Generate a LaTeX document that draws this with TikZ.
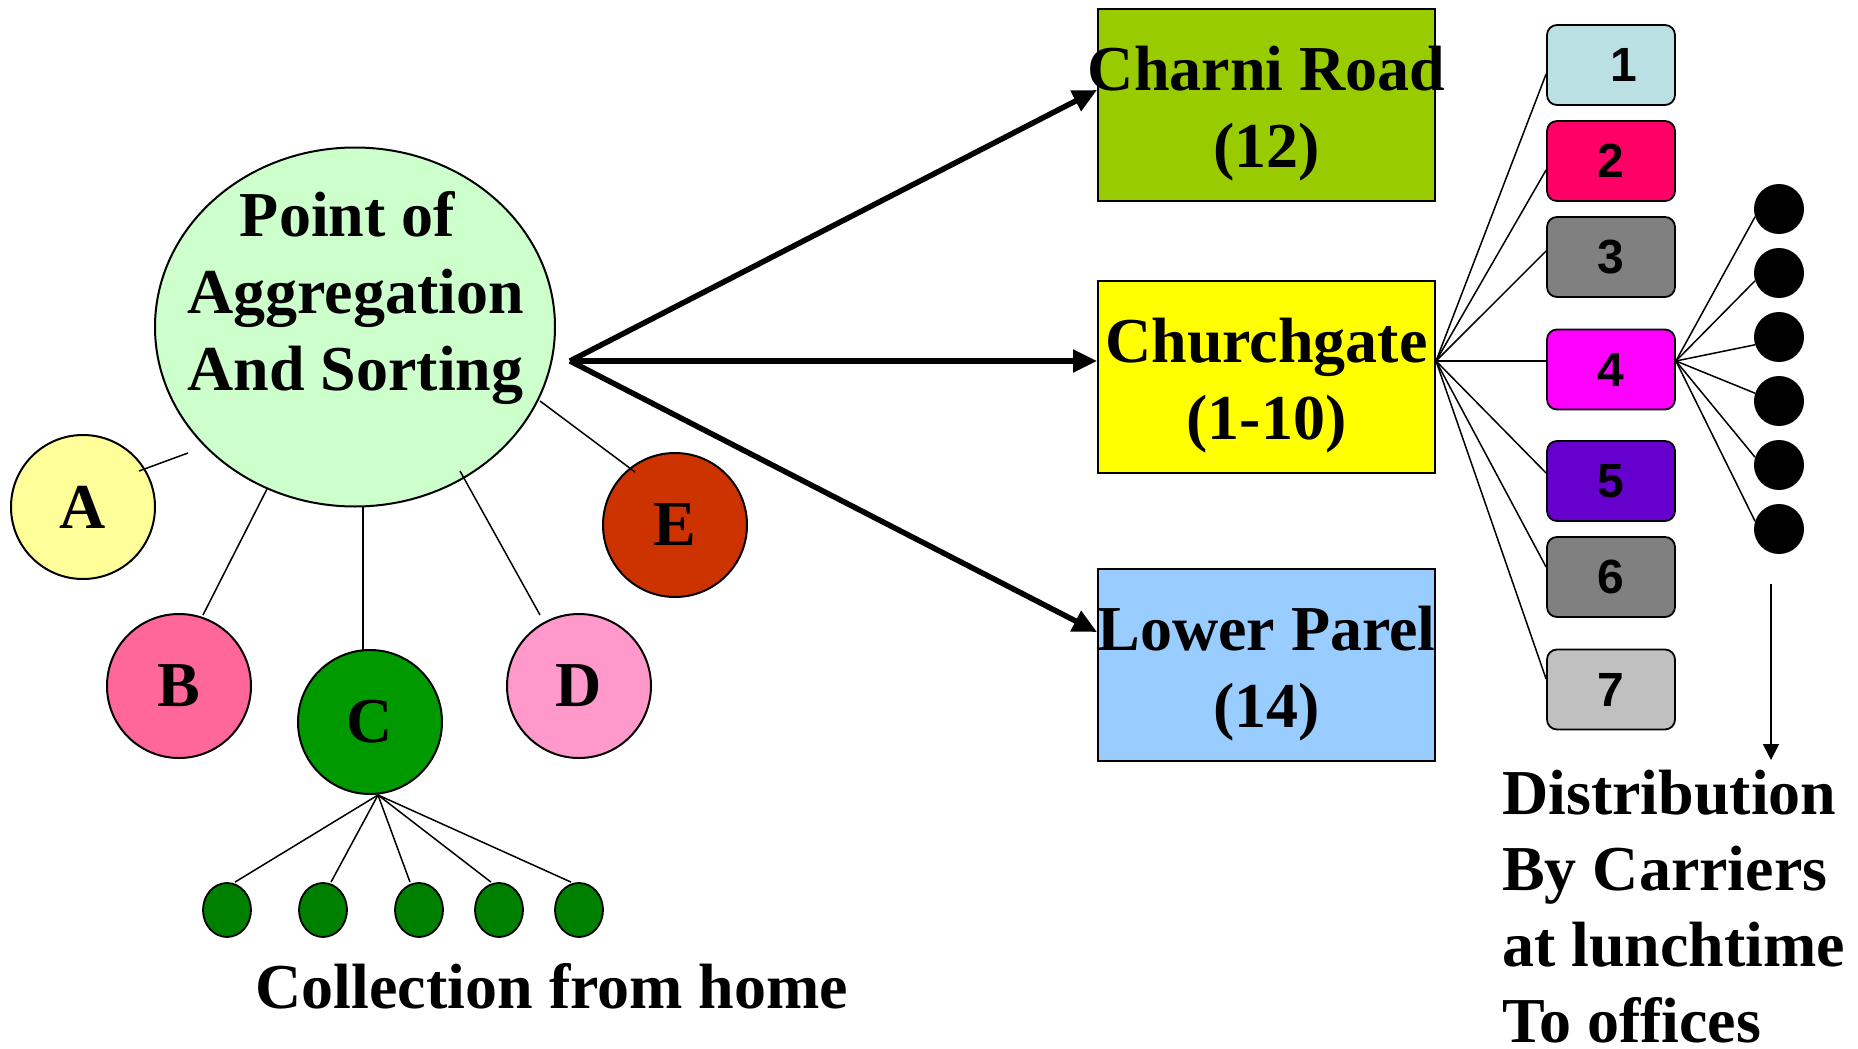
\documentclass[tikz,border=0pt]{standalone}
\usepackage{fontspec}
\setmainfont{Liberation Serif}
\newfontfamily\binfont{Liberation Sans}
\usetikzlibrary{shapes.geometric, arrows.meta, calc}

\definecolor{aggfill}{HTML}{CCFFCC}
\definecolor{fillA}{HTML}{FFFF99}
\definecolor{fillB}{HTML}{FF6699}
\definecolor{fillC}{HTML}{009900}
\definecolor{fillD}{HTML}{FF99CC}
\definecolor{fillE}{HTML}{CC3300}
\definecolor{homegreen}{HTML}{008000}
\definecolor{charnifill}{HTML}{99CC00}
\definecolor{churchfill}{HTML}{FFFF00}
\definecolor{lowerfill}{HTML}{99CCFF}
\definecolor{binA}{HTML}{BBE0E3}
\definecolor{binB}{HTML}{FF0066}
\definecolor{binC}{HTML}{808080}
\definecolor{binD}{HTML}{FF00FF}
\definecolor{binE}{HTML}{6600CC}
\definecolor{binF}{HTML}{808080}
\definecolor{binG}{HTML}{C0C0C0}

\begin{document}
\begin{tikzpicture}[x=1pt, y=-1pt,
  bigfont/.style={font={\fontsize{64}{77}\selectfont\bfseries}},
  caption/.style={bigfont, inner sep=0pt},
  bubble/.style={circle, draw, line width=2pt, minimum size=144pt, inner sep=0pt, bigfont},
  station/.style={rectangle, draw, line width=2pt, minimum width=337pt, minimum height=192pt, inner sep=0pt},
  stationtext/.style={caption, align=center},
  bin/.style={rectangle, rounded corners=10pt, draw, line width=1.8pt, minimum width=128pt, minimum height=80pt, inner sep=0pt, font={\binfont\fontsize{48}{48}\selectfont\bfseries}},
  carrier/.style={circle, fill=black, minimum size=50pt, inner sep=0pt},
  home/.style={ellipse, draw, fill=homegreen, line width=1.8pt, minimum width=48pt, minimum height=54pt, inner sep=0pt},
  link/.style={line width=1.5pt},
  route/.style={line width=5.5pt, -{Triangle[length=24pt,width=22pt]}},
  deliver/.style={line width=1.8pt, -{Triangle[length=16pt,width=16pt]}}
]
\useasboundingbox (0,0) rectangle (1858,1049);

% central sorting point
\node[ellipse, draw, line width=2pt, fill=aggfill, minimum width=400pt, minimum height=359pt, inner sep=0pt] (agg) at (355,327) {};
\node[stationtext] (aggtext) at (355.5,298.5) {Point of\hspace*{16pt}\\Aggregation\\And Sorting};

% collection areas
\node[bubble, fill=fillA] (A) at (83,507) {A};
\node[bubble, fill=fillB] (B) at (179,686) {B};
\node[bubble, fill=fillC] (C) at (370,722) {C};
\node[bubble, fill=fillD] (D) at (579,686) {D};
\node[bubble, fill=fillE] (E) at (675,525) {E};

\draw[link] ($(agg.center)+(-167,126)$) -- ($(A.center)+(56,-36)$);
\draw[link] ($(agg.center)+(-88,162)$) -- ($(B.center)+(24,-71)$);
\draw[link] ($(agg.center)+(8,180)$) -- ($(C.center)+(-7,-72)$);
\draw[link] ($(agg.center)+(105,144)$) -- ($(D.center)+(-39,-71)$);
\draw[link] ($(agg.center)+(185,74)$) -- ($(E.center)+(-40,-53)$);

% homes served by area C
\node[home] (h1) at (227,910) {};
\node[home] (h2) at (323,910) {};
\node[home] (h3) at (419,910) {};
\node[home] (h4) at (499,910) {};
\node[home] (h5) at (579,910) {};
\coordinate (cfan) at ($(C.center)+(8,73)$);
\draw[link] (cfan) -- ($(h1.north)+(8,0)$);
\draw[link] (cfan) -- ($(h2.north)+(8,0)$);
\draw[link] (cfan) -- ($(h3.north)+(-9,0)$);
\draw[link] (cfan) -- ($(h4.north)+(-8,0)$);
\draw[link] (cfan) -- ($(h5.north)+(-8,0)$);
\node[caption, anchor=base] (collect) at (552,1008) {Collection from home};

% destination stations
\node[station, fill=charnifill] (charni) at (1266.5,105) {};
\node[station, fill=churchfill] (church) at (1266.5,377) {};
\node[station, fill=lowerfill] (lower) at (1266.5,665) {};
\node[stationtext] (charnitext) at ($(charni.center)+(0,8.5)$) {Charni Road\\(12)};
\node[stationtext] (churchtext) at ($(church.center)+(0,8.5)$) {Churchgate\\(1-10)};
\node[stationtext] (lowertext) at ($(lower.center)+(0,8.5)$) {Lower Parel\\(14)};

\coordinate (hub) at (570,361);
\draw[route] (hub) -- ($(charni.west)+(0,-15)$);
\draw[route] (hub) -- ($(church.west)+(0,-16)$);
\draw[route] (hub) -- ($(lower.west)+(0,-33)$);

% sorting bins at Churchgate
\node[bin, fill=binA] (n1) at (1611,65) {\hspace*{26pt}1};
\node[bin, fill=binB] (n2) at (1611,161) {2};
\node[bin, fill=binC] (n3) at (1611,257) {3};
\node[bin, fill=binD] (n4) at (1611,369.5) {4};
\node[bin, fill=binE] (n5) at (1611,481) {5};
\node[bin, fill=binF] (n6) at (1611,577) {6};
\node[bin, fill=binG] (n7) at (1611,689.5) {7};

\coordinate (gfan) at ($(church.east)+(0,-16)$);
\draw[link] (gfan) -- ($(n1.west)+(0,9)$);
\draw[link] (gfan) -- ($(n2.west)+(0,9)$);
\draw[link] (gfan) -- ($(n3.west)+(0,-6)$);
\draw[link] (gfan) -- ($(n4.west)+(0,-8.5)$);
\draw[link] (gfan) -- ($(n5.west)+(0,-8)$);
\draw[link] (gfan) -- ($(n6.west)+(0,-10)$);
\draw[link] (gfan) -- ($(n7.west)+(0,-10.5)$);

% carriers leaving bin 4
\node[carrier] (k1) at (1779,209) {};
\node[carrier] (k2) at (1779,273) {};
\node[carrier] (k3) at (1779,337) {};
\node[carrier] (k4) at (1779,401) {};
\node[carrier] (k5) at (1779,465) {};
\node[carrier] (k6) at (1779,529) {};
\coordinate (kfan) at ($(n4.east)+(0,-8.5)$);
\draw[link] (kfan) -- (k1.198);
\draw[link] (kfan) -- (k2.198);
\draw[link] (kfan) -- (k3.198);
\draw[link] (kfan) -- (k4.162);
\draw[link] (kfan) -- (k5.162);
\draw[link] (kfan) -- (k6.162);

% final delivery
\node[caption, align=left, anchor=north west, font={\fontsize{64}{76}\selectfont\bfseries}] (dist) at (1502,770) {Distribution\\By Carriers\\at lunchtime\\To offices};
\coordinate (carrytop) at (1771,584);
\draw[deliver, shorten >=10pt] (carrytop) -- (carrytop |- dist.north);
\end{tikzpicture}
\end{document}
